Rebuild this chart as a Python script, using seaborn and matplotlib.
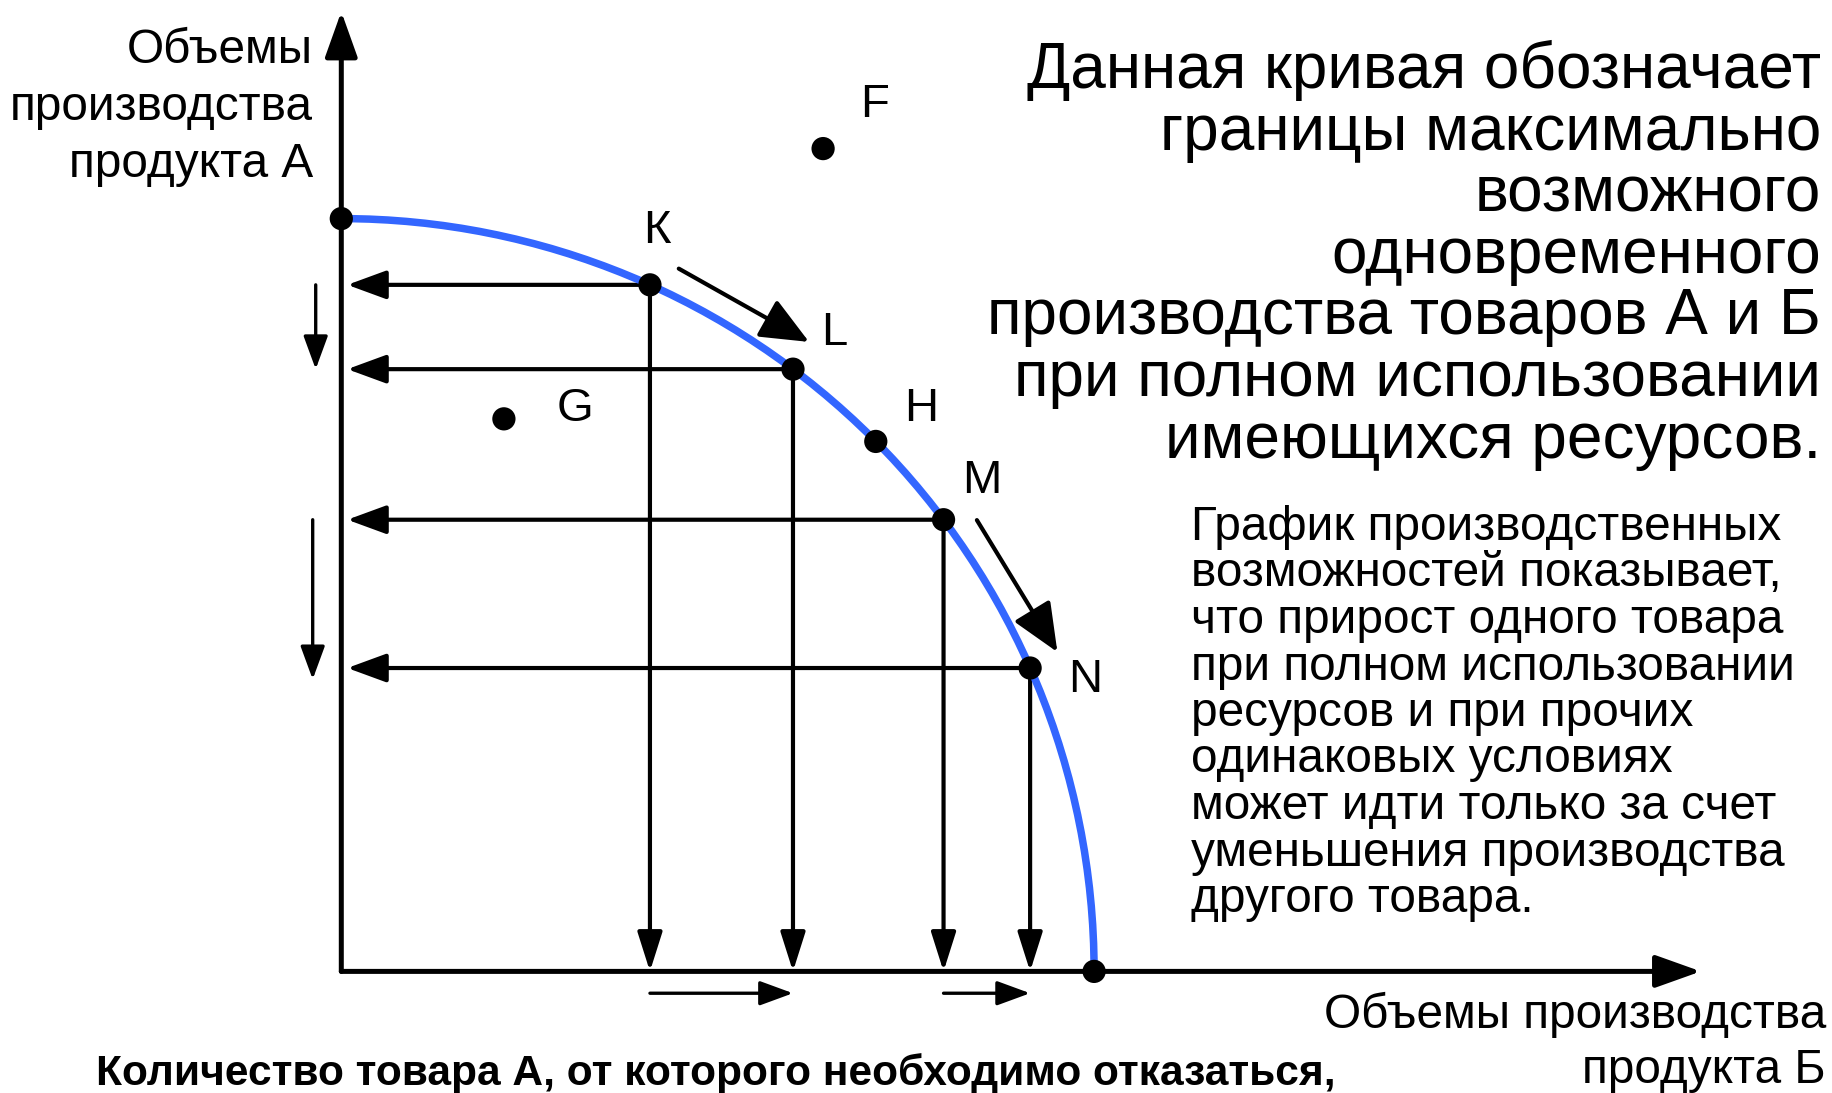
import matplotlib
matplotlib.use("Agg")
import numpy as np
import pandas as pd
import matplotlib.pyplot as plt
from matplotlib.patches import Arc
import seaborn as sns

# ==========================================================
# 1. Data: production possibilities (product B on x, product A on y)
# ==========================================================
A_MAX = 10.0   # max volume of product A (curve meets the y axis)
B_MAX = 10.0   # max volume of product B (curve meets the x axis)

curve_names = ["К", "L", "H", "M", "N"]
curve_b = [4.1, 6.0, 7.1, 8.0, 9.15]
curve_a = [9.12, 8.0, 7.04, 6.0, 4.03]

off_names = ["F", "G"]
off_b = [6.4, 2.16]
off_a = [10.93, 7.34]

# points projected onto both axes, and the two moves along the curve
projected = ["К", "L", "M", "N"]
moves = [("К", "L"), ("M", "N")]

title_lines = [
    "Данная кривая обозначает",
    "границы максимально",
    "возможного",
    "одновременного",
    "производства товаров А и Б",
    "при полном использовании",
    "имеющихся ресурсов.",
]
note_lines = [
    "График производственных",
    "возможностей показывает,",
    "что прирост одного товара",
    "при полном использовании",
    "ресурсов и при прочих",
    "одинаковых условиях",
    "может идти только за счет",
    "уменьшения производства",
    "другого товара.",
]
ylabel_lines = ["Объемы", "производства", "продукта А"]
xlabel_lines = ["Объемы производства", "продукта Б"]
bottom_text = "Количество товара А, от которого необходимо отказаться,"

df_curve = pd.DataFrame({"name": curve_names, "B": curve_b, "A": curve_a})
df_ends = pd.DataFrame({"name": ["", ""], "B": [0.0, B_MAX], "A": [A_MAX, 0.0]})
df_off = pd.DataFrame({"name": off_names, "B": off_b, "A": off_a})
df_all = pd.concat([df_ends, df_curve, df_off], ignore_index=True)
pos = {r.name: (r.B, r.A) for r in df_all.itertuples() if r.name}

# ==========================================================
# 2. Layout
# ==========================================================
W, H = 1833, 1093
ORIGIN = (341.3, 971.4)   # pixel position of the axes origin
UNIT = 75.28              # pixels per production unit
BLUE = "#3366ff"

label_offset = {"К": (0.09, 0.71), "L": (0.55, 0.48), "H": (0.6, 0.43),
                "M": (0.51, 0.51), "N": (0.73, -0.16), "F": (0.68, 0.58),
                "G": (0.95, 0.13)}

sns.set_theme(style="white")
plt.rcParams["font.family"] = ["Liberation Sans", "DejaVu Sans"]
plt.rcParams["text.color"] = "black"

fig = plt.figure(figsize=(W / 100, H / 100), dpi=100)
ax = fig.add_axes([0, 0, 1, 1])
ax.set_xlim(-ORIGIN[0] / UNIT, (W - ORIGIN[0]) / UNIT)
ax.set_ylim(-(H - ORIGIN[1]) / UNIT, ORIGIN[1] / UNIT)
ax.axis("off")


def arrow(p0, p1, lw=3.0, scale=40, hl=0.6, hw=0.22, z=2):
    ax.annotate("", xy=p1, xytext=p0, zorder=z,
                arrowprops=dict(arrowstyle=f"-|>,head_length={hl},head_width={hw}",
                                lw=lw, color="black", mutation_scale=scale,
                                shrinkA=0, shrinkB=0))


# axes with arrows
arrow((0, 0), (18.06, 0), lw=3.6, scale=40, hl=0.7, hw=0.25)
arrow((0, 0), (0, 12.75), lw=3.6, scale=40, hl=0.7, hw=0.25)

# production possibilities frontier
ax.add_patch(Arc((0, 0), 2 * B_MAX, 2 * A_MAX, theta1=0, theta2=90,
                 color=BLUE, lw=5.4, zorder=3))

# projections of points on both axes
for n in projected:
    b, a = pos[n]
    arrow((b, a), (0.08, a))
    arrow((b, a), (b, 0.0), hw=0.19)

# moves: along the curve, loss of A on the y side, gain of B on the x side
for n0, n1 in moves:
    p0, p1 = np.array(pos[n0]), np.array(pos[n1])
    mid = (p0 + p1) / 2
    nrm = mid / np.linalg.norm(mid)
    arrow(p0 + 0.1 * (p1 - p0) + 0.38 * nrm, p1 + 0.42 * nrm,
          lw=3.0, scale=50, hl=0.6, hw=0.26)
    xa = -0.34 if n0 == "К" else -0.38
    arrow((xa, p0[1]), (xa, p1[1] - (0.0 if n0 == "К" else 0.15)),
          lw=2.4, scale=34)
    arrow((p0[0], -0.29), (p1[0], -0.29), lw=2.4, scale=34)

sns.scatterplot(data=df_all, x="B", y="A", s=280, color="black",
                edgecolor="none", zorder=5, ax=ax, legend=False)

for n, (dx, dy) in label_offset.items():
    b, a = pos[n]
    ax.text(b + dx, a + dy, n, fontsize=34, ha="center", va="center", zorder=6)


def px(x, y):
    return x / W, 1 - y / H


for i, line in enumerate(title_lines):
    fig.text(*px(1821, 88 + 61.6 * i), line, fontsize=46, ha="right", va="baseline")
for i, line in enumerate(note_lines):
    fig.text(*px(1191, 540 + 46.5 * i), line, fontsize=34.4, ha="left", va="baseline")
for i, line in enumerate(ylabel_lines):
    fig.text(*px(313, 63 + 57 * i), line, fontsize=34.4, ha="right", va="baseline")
for i, line in enumerate(xlabel_lines):
    fig.text(*px(1826, 1028 + 55 * i), line, fontsize=34.4, ha="right", va="baseline")
fig.text(*px(96, 1085), bottom_text, fontsize=30.6, fontweight="bold",
         ha="left", va="baseline")

fig.savefig("out.png", dpi=100)
